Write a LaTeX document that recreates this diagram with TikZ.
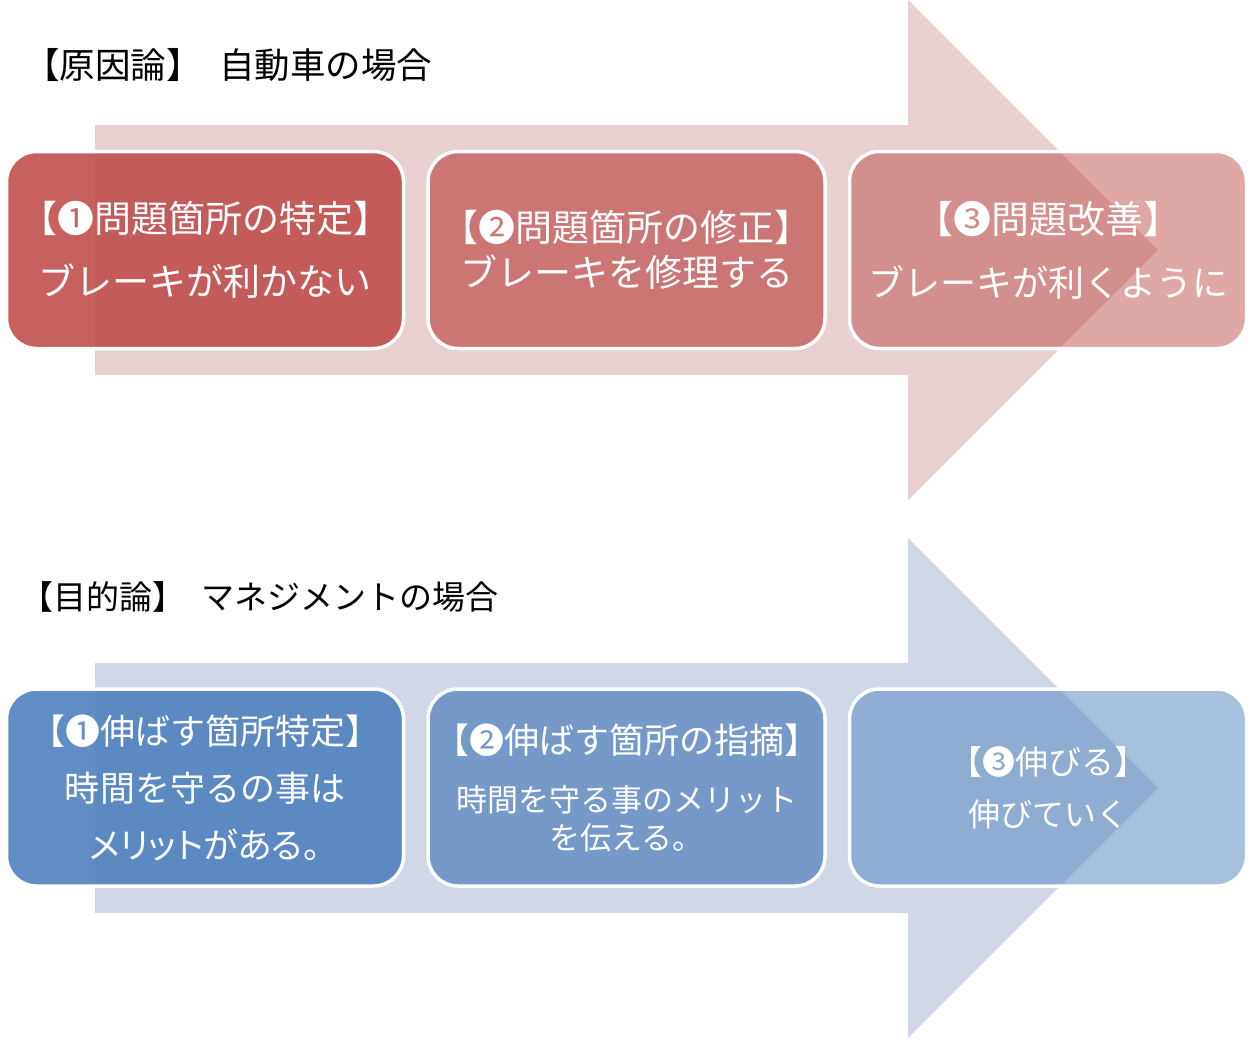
\documentclass[tikz,border=0pt]{standalone}
\usepackage{fontspec}
\setmainfont{Noto Sans CJK JP}
\definecolor{redbase}{HTML}{C0504D}
\definecolor{bluebase}{HTML}{4F81BD}
\definecolor{redarrow}{HTML}{E8D0D0}
\definecolor{bluearrow}{HTML}{D0D8E8}
\begin{document}
\begin{tikzpicture}[x=1pt,y=-1pt,
  box/.style={draw=white, line width=3.5pt, rounded corners=30pt,
    minimum width=397pt, minimum height=197pt, text=white, text opacity=1,
    align=center, inner sep=0pt},
  title/.style={anchor=west, text=black, inner sep=0pt}
]
\useasboundingbox (0,0) rectangle (1252,1039);
\fill[white] (0,0) rectangle (1252,1039);

% ---- top: cause ----
\node[title, font=\fontsize{35.5}{40}\selectfont] (t1) at (24,65) {【原因論】\hspace{0.5em}自動車の場合};
\fill[redarrow] (95,125) -- (908,125) -- (908,0) -- (1158,250) -- (908,500) -- (908,375) -- (95,375) -- cycle;
\node[box, fill=redbase, fill opacity=0.9, font=\fontsize{37}{63}\selectfont] (r1) at (205,250)
  {【❶問題箇所の特定】\\ブレーキが利かない};
\node[box, fill=redbase, fill opacity=0.7, font=\fontsize{37}{45}\selectfont] (r2) at (626.5,250)
  {【❷問題箇所の修正】\\ブレーキを修理する};
\node[box, fill=redbase, fill opacity=0.5, font=\fontsize{36}{63}\selectfont] (r3) at (1048,250)
  {{\fontsize{38}{63}\selectfont【❸問題改善】}\\ブレーキが利くように};

% ---- bottom: purpose ----
\node[title, font=\fontsize{33}{40}\selectfont] (t2) at (20,597) {【目的論】\hspace{0.5em}マネジメントの場合};
\fill[bluearrow] (95,663) -- (908,663) -- (908,538) -- (1158,788) -- (908,1038) -- (908,913) -- (95,913) -- cycle;
\node[box, fill=bluebase, fill opacity=0.9, font=\fontsize{35}{57}\selectfont] (b1) at (205,787.5)
  {【❶伸ばす箇所特定】\\時間を守るの事は\\{\addfontfeatures{RawFeature=+palt}メリットがある。}};
\node[box, fill=bluebase, fill opacity=0.7, font=\fontsize{31}{38}\selectfont] (b2) at (626.5,787.5)
  {{\fontsize{35}{38}\selectfont【❷伸ばす箇所の指摘】}\\[20pt]時間を守る事のメリット\\を伝える。};
\node[box, fill=bluebase, fill opacity=0.5, font=\fontsize{32}{52}\selectfont] (b3) at (1048,787.5)
  {{\fontsize{33}{52}\selectfont【❸伸びる】}\\伸びていく};
\end{tikzpicture}
\end{document}
